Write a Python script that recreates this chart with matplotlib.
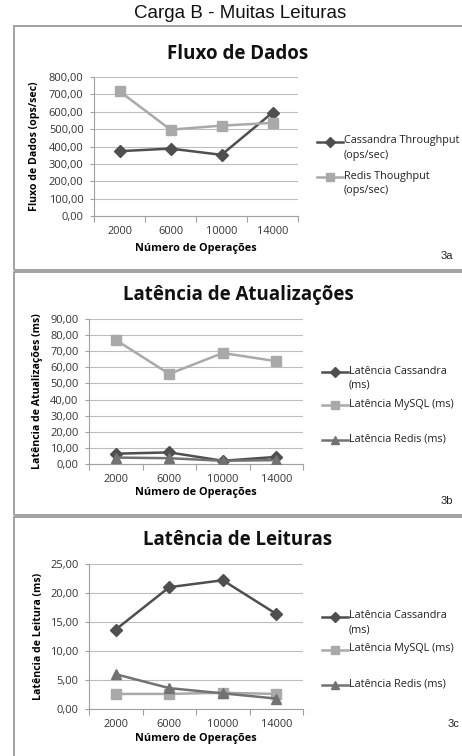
import matplotlib.pyplot as plt
from matplotlib.lines import Line2D
from matplotlib.patches import Rectangle
from matplotlib.ticker import FuncFormatter

# data
operacoes = ["2000", "6000", "10000", "14000"]

fluxo_cassandra = [373, 388, 352, 595]
fluxo_redis = [718, 497, 520, 536]

atual_cassandra = [6.4, 7.2, 2.0, 4.4]
atual_mysql = [77.0, 55.9, 68.9, 63.8]
atual_redis = [4.0, 3.6, 2.0, 2.4]

leit_cassandra = [13.7, 21.0, 22.2, 16.4]
leit_mysql = [2.6, 2.6, 2.8, 2.6]
leit_redis = [6.0, 3.6, 2.7, 1.8]

W, H = 462, 756
BODY = "Open Sans"
DARK = "#4f4f4f"
LIGHT = "#a9a9a9"
MID = "#727272"

plt.rcParams["font.family"] = [BODY, "DejaVu Sans"]

fig = plt.figure(figsize=(W / 100, H / 100), dpi=100)


def fx(x):
    return x / W


def fy(y):
    return 1 - y / H


def comma(v, pos):
    return f"{v:.2f}".replace(".", ",")


def panel(top, bottom, ax_box, title, title_y, ylabel, ylabel_x, xlabel_y,
          ymax, ystep, series, legend_x, legend_rows, tag, tag_xy):
    # panel frame
    fig.add_artist(Rectangle((fx(14), fy(bottom)), fx(480), (bottom - top) / H,
                             transform=fig.transFigure, fill=False,
                             edgecolor="#9a9a9a", linewidth=1.3))
    x0, y0, x1, y1 = ax_box
    ax = fig.add_axes([fx(x0), fy(y1), (x1 - x0) / W, (y1 - y0) / H])
    n = len(operacoes)
    pos = list(range(n))
    for vals, color, marker, ms in series:
        ax.plot(pos, vals, color=color, linewidth=1.8, marker=marker,
                markersize=ms, markeredgecolor=color, markerfacecolor=color, zorder=3)
    ax.set_xlim(-0.5, n - 0.5)
    ax.set_ylim(0, ymax)
    ax.set_yticks([ystep * i for i in range(int(round(ymax / ystep)) + 1)])
    ax.yaxis.set_major_formatter(FuncFormatter(comma))
    ax.set_xticks(pos)
    ax.set_xticklabels(operacoes)
    ax.set_xticks([i - 0.5 for i in range(n + 1)], minor=True)
    ax.tick_params(axis="x", which="major", length=0, pad=7, labelsize=7.9, colors="#333333")
    ax.tick_params(axis="x", which="minor", length=4, color="#a0a0a0", width=0.8)
    ax.tick_params(axis="y", length=3, color="#a0a0a0", width=0.8, pad=4.5,
                   labelsize=8.0, labelcolor="#333333")
    ax.grid(axis="y", color="#bdbdbd", linewidth=0.8)
    ax.set_axisbelow(True)
    for s in ["top", "right"]:
        ax.spines[s].set_visible(False)
    for s in ["left", "bottom"]:
        ax.spines[s].set_color("#a0a0a0")
        ax.spines[s].set_linewidth(0.8)

    ax.set_xlabel("Número de Operações", fontsize=7.8, fontweight="bold", va="center")
    ax.xaxis.set_label_coords(fx((x0 + x1) / 2), fy(xlabel_y), transform=fig.transFigure)
    ax.set_ylabel(ylabel, fontsize=7.6, fontweight="bold", va="center")
    ax.yaxis.set_label_coords(fx(ylabel_x), fy((y0 + y1) / 2), transform=fig.transFigure)

    fig.text(fx(238), fy(title_y), title, fontsize=13.5, fontweight="bold",
             ha="center", va="center", color="#111111")

    # legend drawn at the right side
    for (label, y), (vals, color, marker, ms) in zip(legend_rows, series):
        fig.add_artist(Line2D([fx(legend_x), fx(legend_x + 13), fx(legend_x + 26)],
                              [fy(y)] * 3, transform=fig.transFigure, color=color,
                              linewidth=1.8, marker=marker, markersize=ms * 0.85,
                              markevery=[1], markeredgecolor=color, markerfacecolor=color))
        fig.text(fx(legend_x + 27), fy(y - 6.5), label, fontsize=7.8, ha="left", va="top",
                 color="#222222", linespacing=1.4)

    fig.text(fx(tag_xy[0]), fy(tag_xy[1]), tag, fontsize=8, ha="center", va="center",
             family="Liberation Sans", color="#222222")
    return ax


fig.text(fx(240), fy(13), "Carga B - Muitas Leituras", fontsize=13.5, ha="center",
         va="center", family="Liberation Sans", color="#111111")

panel(26, 270, (94, 77, 298, 216), "Fluxo de Dados", 54,
      "Fluxo de Dados (ops/sec)", 35, 248, 800, 100,
      [(fluxo_cassandra, DARK, "D", 6), (fluxo_redis, LIGHT, "s", 7.5)],
      317, [("Cassandra Throughput\n(ops/sec)", 142), ("Redis Thoughput\n(ops/sec)", 177)],
      "3a", (447, 256))

panel(272, 515, (89, 319, 303, 464), "Latência de Atualizações", 295,
      "Latência de Atualizações (ms)", 38, 493, 90, 10,
      [(atual_cassandra, DARK, "D", 6), (atual_mysql, LIGHT, "s", 7.5),
       (atual_redis, MID, "^", 7)],
      322, [("Latência Cassandra\n(ms)", 372), ("Latência MySQL (ms)", 405),
            ("Latência Redis (ms)", 440)],
      "3b", (447, 501))

panel(517, 800, (89, 564, 303, 709), "Latência de Leituras", 540,
      "Latência de Leitura (ms)", 38, 738, 25, 5,
      [(leit_cassandra, DARK, "D", 6), (leit_mysql, LIGHT, "s", 7.5),
       (leit_redis, MID, "^", 7)],
      322, [("Latência Cassandra\n(ms)", 617), ("Latência MySQL (ms)", 650),
            ("Latência Redis (ms)", 685)],
      "3c", (453, 724))

fig.savefig("out.png", dpi=100)
